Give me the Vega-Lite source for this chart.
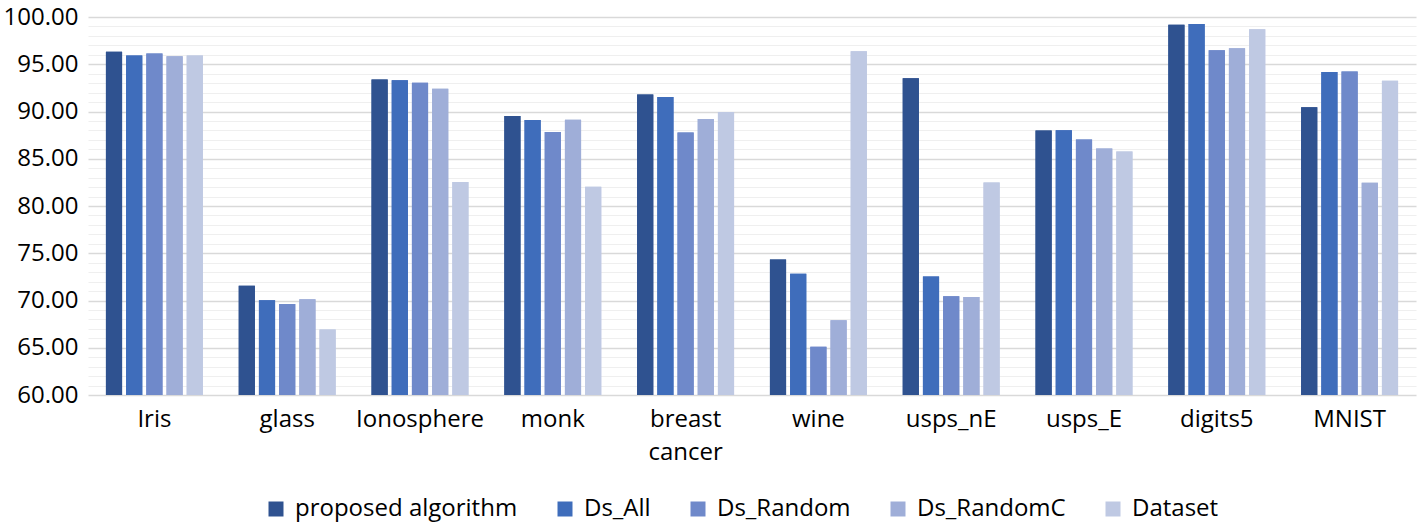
{
  "$schema": "https://vega.github.io/schema/vega-lite/v6.json",
  "width": 1328,
  "height": 378,
  "padding": {"top": 5, "left": 3, "right": 1, "bottom": 2},
  "background": "white",
  "config": {
    "view": {"stroke": null},
    "font": "Open Sans",
    "axis": {"labelFont": "Open Sans", "labelColor": "#000000"},
    "legend": {"labelFont": "Open Sans", "labelColor": "#000000"}
  },
  "data": {
    "values": [
      {"dataset": "Iris", "method": "proposed algorithm", "value": 96.31},
      {"dataset": "Iris", "method": "Ds_All", "value": 95.92},
      {"dataset": "Iris", "method": "Ds_Random", "value": 96.13},
      {"dataset": "Iris", "method": "Ds_RandomC", "value": 95.85},
      {"dataset": "Iris", "method": "Dataset", "value": 95.92},
      {"dataset": "glass", "method": "proposed algorithm", "value": 71.56},
      {"dataset": "glass", "method": "Ds_All", "value": 70.02},
      {"dataset": "glass", "method": "Ds_Random", "value": 69.63},
      {"dataset": "glass", "method": "Ds_RandomC", "value": 70.12},
      {"dataset": "glass", "method": "Dataset", "value": 66.92},
      {"dataset": "Ionosphere", "method": "proposed algorithm", "value": 93.39},
      {"dataset": "Ionosphere", "method": "Ds_All", "value": 93.32},
      {"dataset": "Ionosphere", "method": "Ds_Random", "value": 93.04},
      {"dataset": "Ionosphere", "method": "Ds_RandomC", "value": 92.41},
      {"dataset": "Ionosphere", "method": "Dataset", "value": 82.53},
      {"dataset": "monk", "method": "proposed algorithm", "value": 89.53},
      {"dataset": "monk", "method": "Ds_All", "value": 89.10},
      {"dataset": "monk", "method": "Ds_Random", "value": 87.84},
      {"dataset": "monk", "method": "Ds_RandomC", "value": 89.14},
      {"dataset": "monk", "method": "Dataset", "value": 82.04},
      {"dataset": "breast cancer", "method": "proposed algorithm", "value": 91.81},
      {"dataset": "breast cancer", "method": "Ds_All", "value": 91.53},
      {"dataset": "breast cancer", "method": "Ds_Random", "value": 87.77},
      {"dataset": "breast cancer", "method": "Ds_RandomC", "value": 89.21},
      {"dataset": "breast cancer", "method": "Dataset", "value": 89.95},
      {"dataset": "wine", "method": "proposed algorithm", "value": 74.34},
      {"dataset": "wine", "method": "Ds_All", "value": 72.83},
      {"dataset": "wine", "method": "Ds_Random", "value": 65.10},
      {"dataset": "wine", "method": "Ds_RandomC", "value": 67.91},
      {"dataset": "wine", "method": "Dataset", "value": 96.38},
      {"dataset": "usps_nE", "method": "proposed algorithm", "value": 93.53},
      {"dataset": "usps_nE", "method": "Ds_All", "value": 72.55},
      {"dataset": "usps_nE", "method": "Ds_Random", "value": 70.44},
      {"dataset": "usps_nE", "method": "Ds_RandomC", "value": 70.37},
      {"dataset": "usps_nE", "method": "Dataset", "value": 82.50},
      {"dataset": "usps_E", "method": "proposed algorithm", "value": 87.98},
      {"dataset": "usps_E", "method": "Ds_All", "value": 88.01},
      {"dataset": "usps_E", "method": "Ds_Random", "value": 87.03},
      {"dataset": "usps_E", "method": "Ds_RandomC", "value": 86.08},
      {"dataset": "usps_E", "method": "Dataset", "value": 85.76},
      {"dataset": "digits5", "method": "proposed algorithm", "value": 99.19},
      {"dataset": "digits5", "method": "Ds_All", "value": 99.26},
      {"dataset": "digits5", "method": "Ds_Random", "value": 96.49},
      {"dataset": "digits5", "method": "Ds_RandomC", "value": 96.70},
      {"dataset": "digits5", "method": "Dataset", "value": 98.70},
      {"dataset": "MNIST", "method": "proposed algorithm", "value": 90.44},
      {"dataset": "MNIST", "method": "Ds_All", "value": 94.17},
      {"dataset": "MNIST", "method": "Ds_Random", "value": 94.24},
      {"dataset": "MNIST", "method": "Ds_RandomC", "value": 82.46},
      {"dataset": "MNIST", "method": "Dataset", "value": 93.25}
    ]
  },
  "encoding": {
    "x": {
      "field": "dataset",
      "type": "nominal",
      "sort": null,
      "scale": {"paddingInner": 0.27, "paddingOuter": 0.135},
      "axis": {
        "title": null,
        "labelAngle": 0,
        "labelFontSize": 24,
        "labelPadding": 12,
        "labelLineHeight": 33,
        "ticks": false,
        "domain": false,
        "grid": false,
        "labelExpr": "datum.label == 'breast cancer' ? ['breast', 'cancer'] : datum.label"
      }
    },
    "xOffset": {
      "field": "method",
      "type": "nominal",
      "sort": ["proposed algorithm", "Ds_All", "Ds_Random", "Ds_RandomC", "Dataset"],
      "scale": {"paddingInner": 0.2, "paddingOuter": 0}
    },
    "color": {
      "field": "method",
      "type": "nominal",
      "scale": {
        "domain": ["proposed algorithm", "Ds_All", "Ds_Random", "Ds_RandomC", "Dataset"],
        "range": ["#2F5290", "#3F6DBB", "#6F89CA", "#9FAED8", "#BFC9E3"]
      },
      "legend": {
        "title": null,
        "orient": "none",
        "direction": "horizontal",
        "legendX": 176,
        "legendY": 480,
        "symbolType": "square",
        "symbolSize": 225,
        "symbolStrokeWidth": 0,
        "labelFontSize": 24,
        "labelLimit": 400,
        "labelOffset": 7,
        "columnPadding": 35
      }
    }
  },
  "layer": [
    {
      "mark": {"type": "bar", "clip": true},
      "encoding": {
        "y": {
          "field": "value",
          "type": "quantitative",
          "scale": {"domain": [60, 100], "zero": false, "nice": false},
          "axis": {
            "orient": "right",
            "title": null,
            "labels": false,
            "ticks": false,
            "domain": false,
            "grid": true,
            "gridColor": "#EFEFEF",
            "gridWidth": 1,
            "values": [61,62,63,64,66,67,68,69,71,72,73,74,76,77,78,79,81,82,83,84,86,87,88,89,91,92,93,94,96,97,98,99]
          }
        }
      }
    },
    {
      "mark": {"type": "bar", "clip": true},
      "encoding": {
        "y": {
          "field": "value",
          "type": "quantitative",
          "scale": {"domain": [60, 100], "zero": false, "nice": false},
          "axis": {
            "orient": "left",
            "title": null,
            "format": ".2f",
            "labelFontSize": 24,
            "labelPadding": 10,
            "ticks": false,
            "domain": false,
            "grid": true,
            "gridColor": "#D9D9D9",
            "gridWidth": 1.5,
            "values": [60, 65, 70, 75, 80, 85, 90, 95, 100]
          }
        }
      }
    }
  ],
  "resolve": {"axis": {"y": "independent"}}
}
